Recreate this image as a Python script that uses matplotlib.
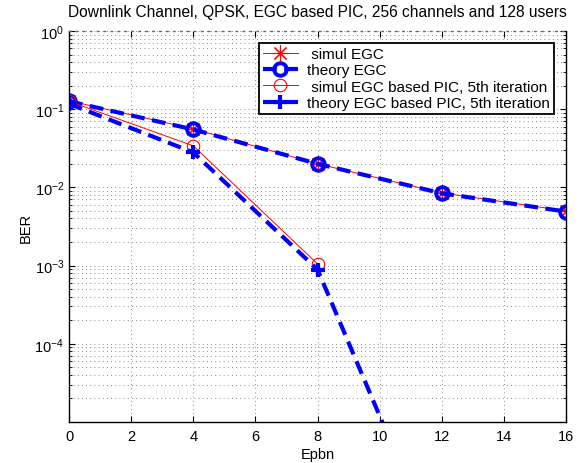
import matplotlib
matplotlib.use("Agg")
import matplotlib.pyplot as plt
from matplotlib.ticker import LogLocator, NullFormatter, FixedLocator

plt.rcParams['font.family'] = ['Liberation Sans', 'DejaVu Sans']

# Data
x_egc = [0, 4, 8, 12, 16]
simul_egc = [0.128, 0.056, 0.020, 0.0085, 0.0050]
theory_egc = [0.126, 0.055, 0.020, 0.0084, 0.0049]

x_pic_sim = [0, 4, 8]
simul_pic = [0.126, 0.034, 0.00105]

x_pic_th = [0, 4, 8, 12]
theory_pic = [0.117, 0.028, 0.00089, 1.6e-7]

labels = [' simul EGC', 'theory EGC', ' simul EGC based PIC, 5th iteration',
          'theory EGC based PIC, 5th iteration']
title = 'Downlink Channel, QPSK, EGC based PIC, 256 channels and 128 users'
xticks = [0, 2, 4, 6, 8, 10, 12, 14, 16]
yticks = [1e-4, 1e-3, 1e-2, 1e-1, 1e0]

fig = plt.figure(figsize=(5.82, 4.64), dpi=100)
ax = fig.add_axes([0.1186, 0.0884, 0.854, 0.8427])

ax.semilogy(x_egc, simul_egc, color='red', lw=0.7, marker=(8, 2, 0), ms=12,
            markeredgewidth=0.8, label=labels[0])
ax.semilogy(x_egc, theory_egc, color='blue', lw=3, ls=(0, (3.3, 1.8)), marker='o', ms=9,
            markeredgewidth=2.8, markerfacecolor='none', label=labels[1])
ax.semilogy(x_pic_sim, simul_pic, color='red', lw=0.7, marker='o', ms=9,
            markeredgewidth=0.8, markerfacecolor='none', label=labels[2])
ax.semilogy(x_pic_th, theory_pic, color='blue', lw=3, ls=(0, (3.3, 1.8)), marker='+', ms=10,
            markeredgewidth=3, label=labels[3])

ax.set_xlim(0, 16)
ax.set_ylim(1e-5, 1)
ax.set_xticks(xticks)
ax.yaxis.set_major_locator(FixedLocator(yticks))
ax.yaxis.set_minor_locator(LogLocator(base=10, subs=range(2, 10), numticks=20))
ax.yaxis.set_minor_formatter(NullFormatter())

ax.grid(True, which='major', color='0.4', ls=(0, (1, 4)), lw=0.6)
ax.grid(True, which='minor', axis='y', color='0.4', ls=(0, (1, 4)), lw=0.6)

ax.tick_params(which='both', direction='in', top=True, right=True, labelsize=10.5)
ax.tick_params(which='major', length=4)
ax.tick_params(which='minor', length=2)
ax.tick_params(axis='x', pad=5)
for s in ax.spines.values():
    s.set_linewidth(1.0)
ax.spines['top'].set_linestyle((0, (1, 4)))
ax.spines['top'].set_color('0.4')

ax.set_xlabel('Epbn', fontsize=10.5, labelpad=3)
ax.set_ylabel('BER', fontsize=10.5, labelpad=1)
ax.set_title(title, fontsize=11.2, pad=11)

leg = ax.legend(loc='upper right', fontsize=11, handlelength=2.3, borderaxespad=0.8,
                fancybox=False, framealpha=1, edgecolor='black', labelspacing=0.15,
                borderpad=0.25, handletextpad=0.6)
leg.get_frame().set_linewidth(1.3)

fig.savefig('out.png', dpi=100)
